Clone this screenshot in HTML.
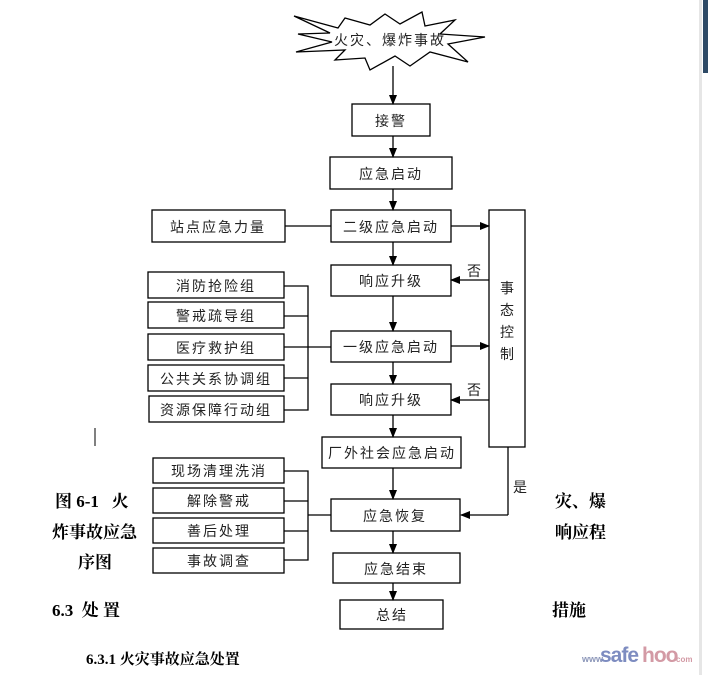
<!DOCTYPE html>
<html><head><meta charset="utf-8"><style>
html,body{margin:0;padding:0;background:#fff;width:708px;height:675px;overflow:hidden}
svg{display:block}
.d{font-family:"Liberation Sans","Noto Sans CJK SC",sans-serif;font-size:14px;fill:#222;text-anchor:middle;letter-spacing:2px}
.b{font-family:"Liberation Serif","Noto Serif CJK SC",serif;font-size:17px;font-weight:bold;fill:#000}
</style></head><body>
<svg width="708" height="675" viewBox="0 0 708 675" xmlns="http://www.w3.org/2000/svg">
<defs><marker id="a" markerWidth="10" markerHeight="8" refX="9" refY="4" orient="auto" markerUnits="userSpaceOnUse"><path d="M0,0 L10,4 L0,8 Z" fill="#000"/></marker></defs>
<g fill="none" stroke="#000" stroke-width="1.3">
<polygon fill="#fff" points="294,16 338,28 345,18 370,25 385,14 400,24 422,12 425,26 455,20 440,34 485,37 448,44 468,62 430,52 410,66 395,56 370,70 365,58 335,60 345,50 296,52 332,42 298,34 330,33"/>
<line x1="393" y1="66" x2="393" y2="104" marker-end="url(#a)"/>
<rect x="352" y="104" width="78" height="32"/>
<line x1="393" y1="136" x2="393" y2="157" marker-end="url(#a)"/>
<rect x="330" y="157" width="122" height="32"/>
<line x1="393" y1="189" x2="393" y2="210" marker-end="url(#a)"/>
<rect x="331" y="210" width="120" height="32"/>
<rect x="152" y="210" width="133" height="32"/>
<line x1="285" y1="226" x2="331" y2="226"/>
<rect x="489" y="210" width="36" height="237"/>
<line x1="451" y1="226" x2="489" y2="226" marker-end="url(#a)"/>
<line x1="393" y1="242" x2="393" y2="265" marker-end="url(#a)"/>
<rect x="331" y="265" width="120" height="31"/>
<line x1="489" y1="280" x2="451" y2="280" marker-end="url(#a)"/>
<line x1="393" y1="296" x2="393" y2="331" marker-end="url(#a)"/>
<rect x="148" y="272" width="136" height="26"/>
<rect x="148" y="302" width="136" height="26"/>
<rect x="148" y="334" width="136" height="26"/>
<rect x="148" y="365" width="136" height="26"/>
<rect x="149" y="396" width="135" height="26"/>
<polyline points="284,286 308,286 308,410 284,410"/>
<line x1="284" y1="316" x2="308" y2="316"/>
<line x1="284" y1="347" x2="331" y2="347"/>
<line x1="284" y1="378" x2="308" y2="378"/>
<rect x="331" y="331" width="120" height="31"/>
<line x1="451" y1="346" x2="489" y2="346" marker-end="url(#a)"/>
<line x1="393" y1="362" x2="393" y2="384" marker-end="url(#a)"/>
<rect x="331" y="384" width="120" height="31"/>
<line x1="489" y1="400" x2="451" y2="400" marker-end="url(#a)"/>
<line x1="393" y1="415" x2="393" y2="437" marker-end="url(#a)"/>
<rect x="322" y="437" width="139" height="31"/>
<line x1="393" y1="468" x2="393" y2="499" marker-end="url(#a)"/>
<polyline points="508,447 508,515" />
<line x1="508" y1="515" x2="461" y2="515" marker-end="url(#a)"/>
<rect x="331" y="499" width="129" height="32"/>
<rect x="153" y="458" width="131" height="25"/>
<rect x="153" y="488" width="131" height="25"/>
<rect x="153" y="518" width="131" height="25"/>
<rect x="153" y="548" width="131" height="25"/>
<polyline points="284,471 308,471 308,560 284,560"/>
<line x1="284" y1="501" x2="308" y2="501"/>
<line x1="284" y1="531" x2="308" y2="531"/>
<line x1="308" y1="515" x2="331" y2="515"/>
<line x1="393" y1="531" x2="393" y2="553" marker-end="url(#a)"/>
<rect x="333" y="553" width="127" height="30"/>
<line x1="393" y1="583" x2="393" y2="600" marker-end="url(#a)"/>
<rect x="340" y="600" width="103" height="29"/>
<line x1="95" y1="428" x2="95" y2="446" stroke-width="1"/>
</g>
<g class="d">
<text x="390" y="45">火灾、爆炸事故</text>
<text x="391" y="126">接警</text>
<text x="391" y="179">应急启动</text>
<text x="391" y="232">二级应急启动</text>
<text x="218" y="232">站点应急力量</text>
<text x="391" y="286">响应升级</text>
<text x="475" y="276">否</text>
<text x="216" y="291">消防抢险组</text>
<text x="216" y="321">警戒疏导组</text>
<text x="216" y="353">医疗救护组</text>
<text x="216" y="384">公共关系协调组</text>
<text x="216" y="415">资源保障行动组</text>
<text x="391" y="352">一级应急启动</text>
<text x="391" y="405">响应升级</text>
<text x="475" y="395">否</text>
<text x="392" y="458">厂外社会应急启动</text>
<text x="521" y="492">是</text>
<text x="508" y="293">事</text>
<text x="508" y="315">态</text>
<text x="508" y="337">控</text>
<text x="508" y="359">制</text>
<text x="395" y="521">应急恢复</text>
<text x="219" y="476">现场清理洗消</text>
<text x="219" y="506">解除警戒</text>
<text x="219" y="536">善后处理</text>
<text x="219" y="566">事故调查</text>
<text x="396" y="574">应急结束</text>
<text x="392" y="620">总结</text>
</g>
<g class="b">
<text x="55" y="507">图 6-1&#160;&#160;&#160;火</text>
<text x="52" y="538">炸事故应急</text>
<text x="78" y="568">序图</text>
<text x="52" y="616">6.3&#160;&#160;处 置</text>
<text x="555" y="507">灾、爆</text>
<text x="555" y="538">响应程</text>
<text x="552" y="616">措施</text>
<text x="86" y="664" style="font-size:15px">6.3.1 火灾事故应急处置</text>
</g>
<g font-family="Liberation Sans,sans-serif" font-weight="bold">
<text x="582" y="662" font-size="9" fill="#8a95b8">www</text>
<text x="600" y="662" font-size="21" fill="#7d8cc0" letter-spacing="-1">safe</text>
<text x="642" y="662" font-size="21" fill="#d39aa5" letter-spacing="-1">hoo</text>
<text x="676" y="662" font-size="8" fill="#d39aa5">com</text>
</g>
<rect x="699" y="0" width="3" height="675" fill="#e6e6e6"/>
<rect x="703" y="0" width="5" height="73" fill="#2e4a66"/>
</svg>
</body></html>
